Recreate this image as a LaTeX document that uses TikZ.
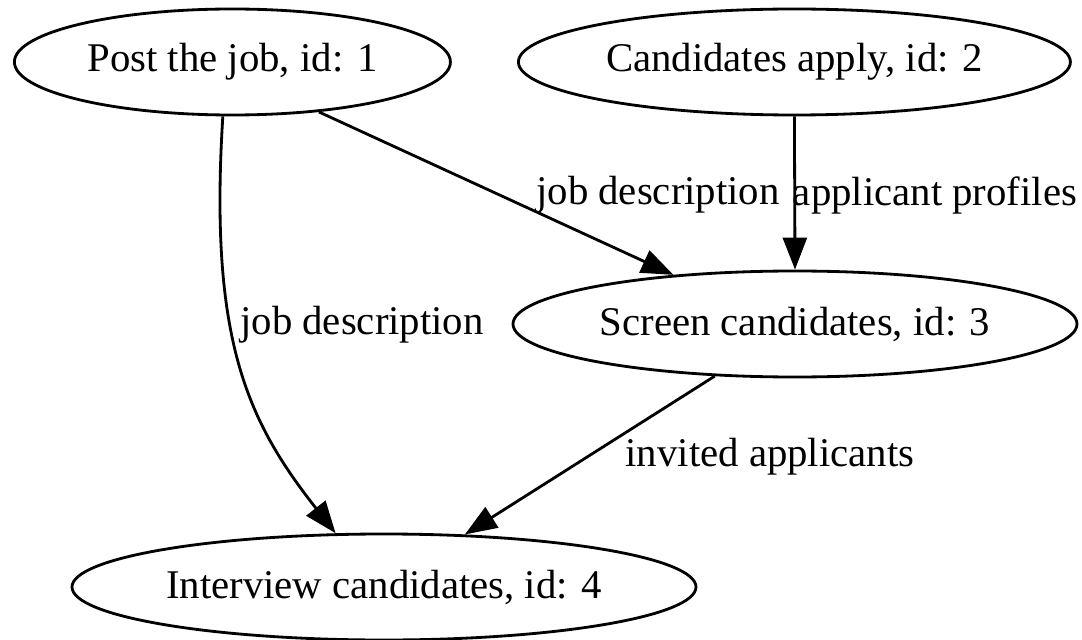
\documentclass[tikz,border=0pt]{standalone}
\usepackage{fontspec}
\setmainfont{Liberation Serif}
\usetikzlibrary{shapes.geometric,arrows.meta}

\tikzset{
	task/.style={draw, ellipse, line width=2pt, inner sep=0pt, minimum height=2.65cm},
	flow/.style={line width=2pt, -{Triangle[length=0.8cm, width=0.6cm]}},
	every node/.style={font=\fontsize{29}{35}\selectfont}
}

\begin{document}
\begin{tikzpicture}
		\useasboundingbox (0,0) rectangle (27.05,-16);

		% Draw the tasks
		\node[task, minimum width=10.9cm] (post) at (5.81, -1.55) {Post the job, id: 1};
		\node[task, minimum width=13.8cm] (apply) at (19.86, -1.55) {Candidates apply, id: 2};
		\node[task, minimum width=14.1cm] (screen) at (19.875, -8.1) {Screen candidates, id: 3};
		\node[task, minimum width=15.6cm] (interview) at (9.6, -14.675) {Interview candidates, id: 4};

		% Draw the flows between the tasks
		\draw[flow] (post.-30) -- (screen.158);
		\draw[flow] (apply.south) -- (screen.north);
		\draw[flow] (post.-100) .. controls +(-0.35,-5.6) and +(-2.2,2.8) .. (interview.132);
		\draw[flow] (screen.213) -- (interview.33);

		% Draw the labels of the flows
		\node (jobdescA) at (16.45, -4.875) {job description};
		\node (profiles) at (23.375, -4.875) {applicant profiles};
		\node (jobdescB) at (9.05, -8.125) {job description};
		\node (invited) at (19.25, -11.425) {invited applicants};

	\end{tikzpicture}
\end{document}
